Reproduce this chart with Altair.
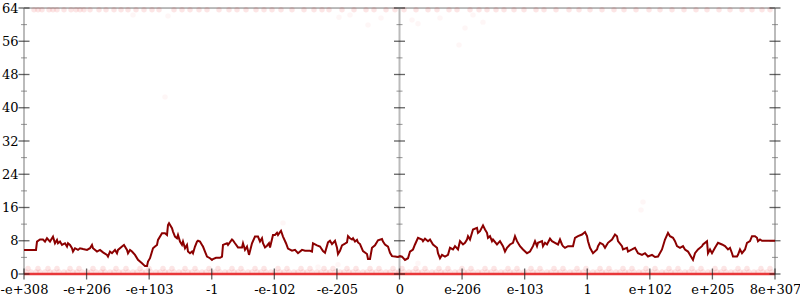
import json
import altair as alt
import pandas as pd

# ---- data ----
x_labels = ["-e+308", "-e+206", "-e+103", "-1", "-e-102", "-e-205", "0",
            "e-206", "e-103", "1", "e+102", "e+205", "8e+307"]
X_MAX = 751  # sample index range

line_x = [0, 12, 13, 16, 19, 21, 23, 26, 28, 29, 31, 33, 34, 36, 38, 41, 43, 44, 46, 48,
          49, 51, 54, 56, 59, 63, 66, 68, 69, 73, 76, 79, 83, 84, 86, 88, 91, 93, 94, 98,
          100, 103, 104, 106, 108, 111, 114, 118, 121, 123, 124, 126, 129, 131, 133, 134, 138, 141, 143, 144,
          145, 148, 149, 151, 153, 154, 156, 158, 159, 161, 163, 164, 166, 168, 169, 171, 173, 174, 176, 178,
          179, 181, 183, 186, 188, 189, 192, 196, 198, 199, 203, 204, 208, 209, 211, 214, 218, 219, 221, 223,
          225, 228, 231, 234, 236, 238, 239, 241, 243, 245, 246, 249, 251, 253, 254, 257, 259, 262, 264, 268,
          271, 274, 278, 281, 286, 288, 289, 293, 296, 299, 301, 304, 306, 308, 311, 313, 314, 316, 318, 321,
          323, 324, 326, 328, 329, 331, 333, 334, 336, 339, 343, 344, 346, 348, 351, 354, 358, 359, 361, 364,
          366, 368, 371, 374, 376, 378, 381, 384, 386, 389, 391, 394, 398, 399, 401, 404, 406, 409, 413, 414,
          416, 418, 421, 424, 426, 429, 431, 434, 436, 439, 441, 443, 444, 446, 449, 453, 454, 456, 459, 461,
          463, 464, 466, 468, 469, 473, 476, 479, 481, 483, 486, 489, 491, 493, 496, 499, 503, 506, 509, 511,
          513, 514, 518, 519, 521, 523, 526, 528, 531, 534, 536, 538, 539, 541, 544, 549, 551, 554, 558, 561,
          563, 564, 566, 569, 573, 574, 576, 579, 581, 584, 588, 591, 593, 594, 598, 599, 603, 604, 608, 611,
          614, 618, 621, 624, 628, 631, 634, 638, 641, 644, 646, 649, 651, 653, 656, 659, 661, 664, 668, 669,
          671, 674, 678, 679, 683, 684, 686, 688, 691, 694, 698, 701, 704, 706, 708, 709, 713, 714, 716, 718,
          721, 723, 726, 728, 731, 733, 734, 736, 738, 751]
line_y = [5.8, 5.8, 7.8, 8.3, 8.3, 7.8, 8.6, 7.8, 8.6, 9.0, 7.4, 8.2, 7.4, 7.8, 7.0, 7.4, 6.6, 7.4, 7.0, 6.2,
          5.4, 6.2, 5.8, 6.2, 6.0, 5.8, 6.2, 7.0, 6.2, 5.4, 5.8, 5.2, 4.6, 4.2, 5.4, 5.0, 5.8, 5.0, 5.8, 6.6,
          7.0, 5.8, 5.0, 5.8, 5.4, 4.6, 3.4, 2.6, 1.9, 1.9, 3.0, 3.8, 6.2, 6.6, 7.0, 8.2, 9.8, 9.8, 9.4, 11.8,
          12.2, 11.0, 10.2, 9.0, 8.6, 9.4, 7.8, 7.0, 7.8, 6.2, 7.0, 5.4, 5.0, 5.4, 5.0, 6.6, 7.8, 8.0, 7.8, 7.0,
          6.6, 5.4, 4.2, 3.8, 3.4, 3.6, 3.9, 3.9, 4.2, 7.0, 7.4, 7.0, 8.3, 8.1, 7.4, 6.4, 6.4, 7.4, 5.8, 6.6,
          4.6, 7.4, 9.0, 9.0, 7.8, 8.6, 7.4, 6.4, 6.8, 7.4, 6.4, 9.4, 9.4, 9.9, 9.4, 10.4, 9.0, 7.4, 6.1, 5.6,
          5.8, 5.0, 5.8, 5.6, 5.6, 5.4, 7.4, 6.9, 6.6, 5.5, 5.1, 7.6, 8.0, 7.2, 8.0, 6.3, 4.8, 5.6, 6.9, 7.3,
          7.6, 9.1, 8.6, 8.3, 8.6, 7.8, 8.2, 7.6, 7.2, 5.5, 4.8, 3.6, 3.6, 6.3, 6.9, 8.1, 8.4, 7.8, 7.1, 6.6,
          5.1, 4.3, 4.2, 4.1, 4.3, 4.2, 3.4, 3.8, 5.4, 5.9, 7.1, 8.7, 8.3, 7.9, 8.5, 7.9, 8.3, 7.1, 6.3, 5.0,
          3.8, 4.6, 4.2, 4.6, 6.3, 5.9, 6.7, 5.9, 7.9, 7.1, 7.5, 8.3, 9.1, 8.3, 10.7, 11.1, 9.9, 10.3, 11.7, 10.7,
          9.9, 8.7, 9.1, 7.9, 8.3, 7.1, 7.9, 6.7, 5.4, 6.3, 7.1, 7.5, 9.1, 7.9, 6.7, 5.9, 5.0, 5.4, 6.7, 7.9,
          6.7, 7.5, 7.9, 6.7, 7.5, 7.1, 8.5, 7.9, 7.5, 7.1, 8.3, 7.1, 6.7, 6.3, 6.7, 6.7, 8.7, 9.1, 9.5, 10.1,
          9.1, 7.9, 6.3, 5.0, 5.9, 6.7, 7.5, 7.1, 6.3, 7.5, 8.3, 9.5, 9.1, 7.9, 6.7, 5.9, 6.3, 5.4, 5.9, 6.3,
          5.0, 4.6, 5.0, 4.2, 4.6, 4.1, 4.2, 5.9, 8.3, 9.9, 9.1, 8.7, 7.9, 6.7, 6.3, 6.7, 5.9, 5.4, 3.8, 3.4,
          5.0, 5.9, 6.7, 7.1, 7.9, 5.0, 5.9, 5.0, 6.3, 7.5, 7.1, 6.7, 5.9, 6.3, 5.0, 4.2, 4.2, 4.6, 5.9, 5.0,
          5.9, 7.5, 7.9, 9.1, 9.1, 8.7, 7.9, 8.3, 8.0, 8.0]

top_dot_x = [10, 14, 18, 25, 29, 33, 40, 47, 52, 56, 60, 66, 75, 82, 90, 97, 104, 112, 120, 128,
             135, 150, 158, 166, 175, 183, 195, 205, 213, 222, 232, 240, 248, 257, 268, 280, 290, 298,
             305, 318, 330, 342, 350, 362, 371, 380, 392, 404, 413, 425, 433, 446, 455, 463, 472, 480,
             490, 500, 512, 520, 532, 545, 555, 566, 578, 590, 600, 612, 625, 636, 648, 660, 672, 683,
             695, 706, 718, 728, 738, 746]
top_dot_y = 63.6

bottom_dot_x = [2, 7, 12, 16, 21, 26, 30, 35, 40, 44, 49, 53, 58, 63, 67, 72, 77, 81, 86, 90,
                95, 99, 104, 109, 113, 118, 122, 127, 132, 136, 141, 145, 150, 155, 159, 164, 168, 173,
                178, 182, 187, 191, 196, 201, 205, 210, 214, 219, 224, 228, 233, 237, 242, 247, 251, 256,
                260, 265, 270, 274, 279, 283, 288, 293, 297, 302, 306, 311, 316, 320, 325, 329, 334, 339,
                343, 348, 352, 357, 362, 366, 371, 375, 380, 385, 389, 394, 398, 403, 408, 412, 417, 421,
                426, 431, 435, 440, 444, 449, 454, 458, 463, 467, 472, 477, 481, 486, 490, 495, 500, 504,
                509, 513, 518, 523, 527, 532, 536, 541, 546, 550, 555, 559, 564, 569, 573, 578, 582, 587,
                592, 596, 601, 605, 610, 615, 619, 624, 628, 633, 638, 642, 647, 651, 656, 661, 665, 670,
                674, 679, 684, 688, 693, 697, 702, 707, 711, 716, 720, 725, 730, 734, 739, 743, 748]
bottom_dot_x2 = [4, 14, 24, 33, 46, 55, 69, 79, 92, 102, 116, 125, 139, 148, 161, 171, 185, 194, 208,
                 217, 231, 240, 254, 263, 277, 286, 300, 309, 323, 332, 346, 355, 369, 378, 392, 401,
                 415, 424, 438, 447, 461, 470, 484, 493, 507, 516, 530, 539, 553, 562, 576, 585, 599,
                 608, 622, 631, 645, 654, 668, 677, 691, 700, 714, 723, 737, 746]
bottom_dot_y = 0.5
bottom_dot_y2 = 1.3

scatter_x = [141, 109, 144, 315, 326, 344, 357, 388, 394, 416, 435, 441, 449, 459, 619, 617, 259, 314, 394, 294]
scatter_y = [42.6, 62.3, 62.1, 61.8, 62.3, 59.9, 61.6, 61.1, 60.2, 61.6, 55.1, 59.2, 62.3, 60.6, 17.3, 15.4, 12.3, 2.2, 2.6, 1.7]

y_tick_values = list(range(0, 65, 4))
axis_line_x = [0, X_MAX / 2, X_MAX]
x_tick_values = [i * X_MAX / 12 for i in range(13)]

# ---- tables ----
line_df = pd.DataFrame({"x": line_x, "y": line_y})
band_df = pd.DataFrame(
    {"x": top_dot_x + bottom_dot_x + bottom_dot_x2,
     "y": [top_dot_y] * len(top_dot_x) + [bottom_dot_y] * len(bottom_dot_x)
          + [bottom_dot_y2] * len(bottom_dot_x2)})
scatter_df = pd.DataFrame({"x": scatter_x, "y": scatter_y})
zero_df = pd.DataFrame({"x": [0, X_MAX], "y": [0, 0]})
top_df = pd.DataFrame({"x": [0, X_MAX], "y": [64, 64]})
vaxis_df = pd.DataFrame([{"x": ax, "y": 0, "y2": 64} for ax in axis_line_x])
yt_major = pd.DataFrame([{"x": ax, "y": v} for ax in axis_line_x for v in y_tick_values if v % 8 == 0])
yt_minor = pd.DataFrame([{"x": ax, "y": v} for ax in axis_line_x for v in y_tick_values if v % 8 != 0])
xt_df = pd.DataFrame({"x": x_tick_values, "y": [0] * len(x_tick_values)})

FONT = "DejaVu Serif"
xs = alt.Scale(domain=[0, X_MAX], nice=False, zero=False)
ys = alt.Scale(domain=[0, 64], nice=False, zero=False)

label_expr = json.dumps(x_labels) + "[round(datum.value * 12 / %d)]" % X_MAX

x_axis = alt.Axis(values=x_tick_values, labelExpr=label_expr, ticks=False, domain=False,
                  grid=False, title=None, labelFont=FONT, labelFontSize=13, labelColor="#000",
                  labelPadding=9, labelOverlap=False, labelFlush=False)
y_axis = alt.Axis(values=list(range(0, 65, 8)), ticks=False, domain=False, grid=False,
                  title=None, labelFont=FONT, labelFontSize=13, labelColor="#000",
                  labelPadding=6, labelOverlap=False, labelFlush=False)


def enc(base):
    return base.encode(
        x=alt.X("x:Q", scale=xs, axis=x_axis),
        y=alt.Y("y:Q", scale=ys, axis=y_axis),
    )


band = enc(alt.Chart(band_df).mark_circle(color="#e00000", opacity=0.1, size=30))
scatter = enc(alt.Chart(scatter_df).mark_circle(color="#e00000", opacity=0.035, size=30))
top_line = enc(alt.Chart(top_df).mark_line(color="#aaaaaa", strokeWidth=1.5))
vaxes = enc(alt.Chart(vaxis_df).mark_rule(color="#bbbbbb", strokeWidth=2)).encode(y2="y2:Q")
zero_line = enc(alt.Chart(zero_df).mark_line(color="#e8383a", strokeWidth=2.5))
ticks_major = enc(alt.Chart(yt_major).mark_tick(orient="horizontal", size=11, thickness=1.3,
                                                 color="#222222"))
ticks_minor = enc(alt.Chart(yt_minor).mark_tick(orient="horizontal", size=6, thickness=1,
                                                 color="#666666"))
ticks_x = enc(alt.Chart(xt_df).mark_tick(orient="vertical", size=11, thickness=1.3,
                                         color="#222222"))
series = enc(alt.Chart(line_df).mark_line(color="#8b0000", strokeWidth=2))

chart = alt.layer(
    vaxes, top_line, band, scatter, zero_line, ticks_minor, ticks_major, ticks_x, series
).properties(
    width=751, height=266,
    autosize=alt.AutoSizeParams(type="none"),
    padding={"left": 24, "top": 8, "right": 25, "bottom": 26},
).configure_view(stroke=None).configure(background="white")

chart.save("out.html", embed_options={"renderer": "svg", "actions": False})
